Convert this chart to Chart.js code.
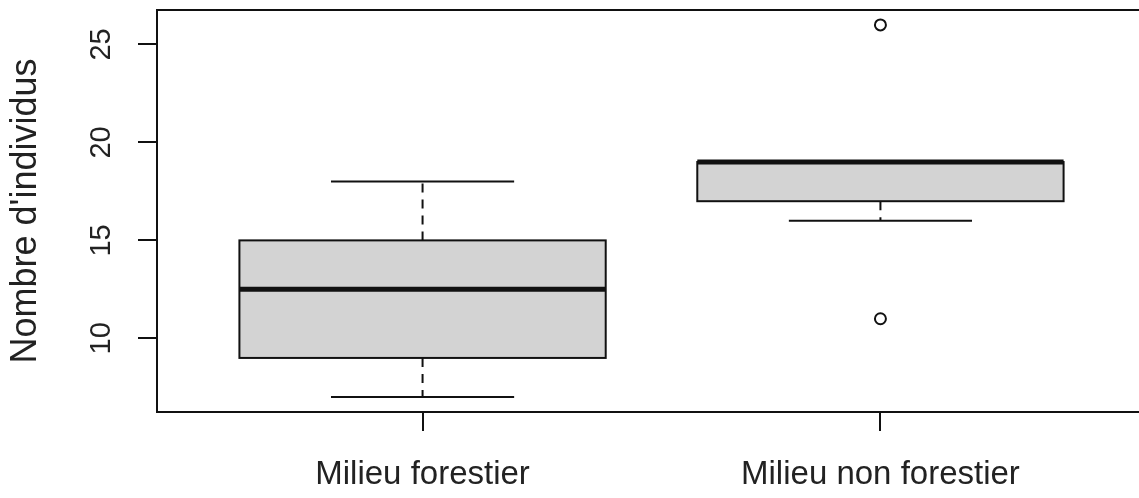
<!DOCTYPE html>
<html>
<head>
<meta charset="utf-8">
<script src="https://cdn.jsdelivr.net/npm/chart.js@4.4.0/dist/chart.umd.min.js"></script>
<style>
  html, body { margin: 0; padding: 0; background: #fff; overflow: hidden; }
  #wrap { width: 1139px; height: 498px; overflow: hidden; }
  canvas { display: block; }
</style>
</head>
<body>
<div id="wrap"><canvas id="boxChart" width="1160" height="498"></canvas></div>
<script>
// ==============================
// Data
// ==============================
const categories = ["Milieu forestier", "Milieu non forestier"];
const whiskerLow = [7, 16];
const lowerQuartile = [9, 17];
const medians = [12.5, 19];
const upperQuartile = [15, 19];
const whiskerHigh = [18, 19];
const outliers = [[], [26, 11]];
const yTicks = [10, 15, 20, 25];
const yTitle = "Nombre d'individus";

// axis ranges like R (data range + 4%)
const yMin = 6.24, yMax = 26.76;
const xMin = 0.42, xMax = 2.58;
const boxWidth = 0.8;

// ==============================
// Plugin: boxes, whiskers and frame
// ==============================
const boxPlotPlugin = {
  id: "boxPlot",
  beforeDatasetsDraw(chart) {
    const { ctx, scales: { x, y } } = chart;
    const line = (x1, y1, x2, y2) => {
      ctx.beginPath();
      ctx.moveTo(x1, y1);
      ctx.lineTo(x2, y2);
      ctx.stroke();
    };
    ctx.save();
    ctx.strokeStyle = "#111";
    categories.forEach((cat, i) => {
      const pos = i + 1;
      const left = x.getPixelForValue(pos - boxWidth / 2);
      const right = x.getPixelForValue(pos + boxWidth / 2);
      const mid = x.getPixelForValue(pos);
      const capL = x.getPixelForValue(pos - boxWidth / 4);
      const capR = x.getPixelForValue(pos + boxWidth / 4);
      const yLo = y.getPixelForValue(whiskerLow[i]);
      const yQ1 = y.getPixelForValue(lowerQuartile[i]);
      const yMed = y.getPixelForValue(medians[i]);
      const yQ3 = y.getPixelForValue(upperQuartile[i]);
      const yHi = y.getPixelForValue(whiskerHigh[i]);

      // whiskers (dashed)
      ctx.lineWidth = 2;
      ctx.setLineDash([9, 7]);
      line(mid, yQ3, mid, yHi);
      line(mid, yQ1, mid, yLo);
      ctx.setLineDash([]);
      // staples
      line(capL, yHi, capR, yHi);
      line(capL, yLo, capR, yLo);

      // box
      ctx.fillStyle = "#d3d3d3";
      ctx.fillRect(left, yQ3, right - left, yQ1 - yQ3);
      ctx.strokeRect(left, yQ3, right - left, yQ1 - yQ3);

      // median
      ctx.lineWidth = 5;
      line(left, yMed, right, yMed);
    });
    ctx.restore();
  },
  afterDraw(chart) {
    const { ctx, chartArea: a } = chart;
    ctx.save();
    ctx.strokeStyle = "#111";
    ctx.lineWidth = 2;
    ctx.strokeRect(a.left, a.top, a.right - a.left, a.bottom - a.top);
    ctx.restore();
  },
};

// outlier points
const outlierPoints = outliers.flatMap((vals, i) =>
  vals.map((v) => ({ x: i + 1, y: v }))
);

const ctx = document.getElementById("boxChart").getContext("2d");

new Chart(ctx, {
  type: "scatter",
  data: {
    datasets: [
      {
        label: "outliers",
        data: outlierPoints,
        pointStyle: "circle",
        pointRadius: 5.5,
        borderColor: "#111",
        borderWidth: 2,
        backgroundColor: "rgba(0,0,0,0)",
      },
    ],
  },
  options: {
    responsive: false,
    animation: false,
    devicePixelRatio: 1,
    layout: { padding: { top: 10, right: 14, left: 0, bottom: 0 } },
    plugins: {
      legend: { display: false },
      tooltip: { enabled: false },
    },
    scales: {
      x: {
        type: "linear",
        min: xMin,
        max: xMax,
        afterBuildTicks: (scale) => {
          scale.ticks = categories.map((c, i) => ({ value: i + 1 }));
        },
        afterFit: (scale) => {
          scale.height = 86;
          scale.paddingLeft = 0;
          scale.paddingRight = 0;
        },
        ticks: {
          autoSkip: false,
          maxRotation: 0,
          padding: 24,
          color: "#222",
          font: { family: "'Liberation Sans', Arial, sans-serif", size: 33 },
          callback: (v) => categories[v - 1],
        },
        grid: {
          drawOnChartArea: false,
          drawTicks: true,
          tickLength: 19,
          color: "#111",
          lineWidth: 2,
        },
        border: { display: false },
      },
      y: {
        type: "linear",
        min: yMin,
        max: yMax,
        afterBuildTicks: (scale) => {
          scale.ticks = yTicks.map((v) => ({ value: v }));
        },
        afterFit: (scale) => {
          scale.width = 157;
          scale.paddingTop = 0;
          scale.paddingBottom = 0;
        },
        ticks: {
          minRotation: 90,
          maxRotation: 90,
          crossAlign: "center",
          padding: 20,
          color: "#222",
          font: { family: "'Liberation Sans', Arial, sans-serif", size: 29 },
        },
        grid: {
          drawOnChartArea: false,
          drawTicks: true,
          tickLength: 19,
          color: "#111",
          lineWidth: 2,
        },
        border: { display: false },
        title: {
          display: true,
          text: yTitle,
          color: "#222",
          padding: { top: 4, bottom: 0 },
          font: { family: "'Liberation Sans', Arial, sans-serif", size: 36 },
        },
      },
    },
  },
  plugins: [boxPlotPlugin],
});
</script>
</body>
</html>
